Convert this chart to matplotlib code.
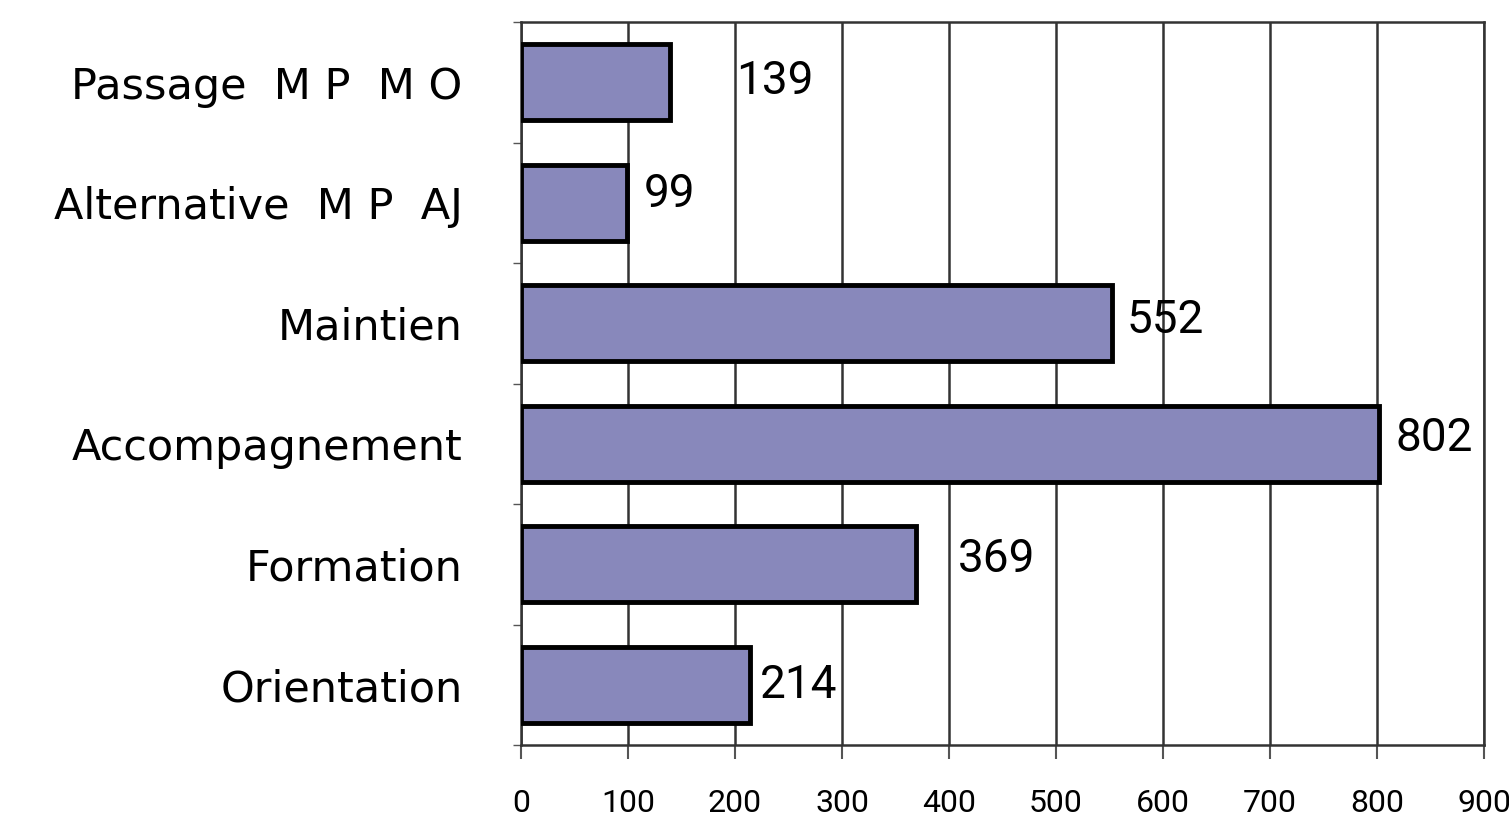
import matplotlib
matplotlib.use("Agg")
import matplotlib.pyplot as plt
import numpy as np

# catégories (du bas vers le haut)
categories = ['Orientation', 'Formation', 'Accompagnement', 'Maintien',
              'Alternative  M P  AJ', 'Passage  M P  M O']
values = [214, 369, 802, 552, 99, 139]
xticks = [0, 100, 200, 300, 400, 500, 600, 700, 800, 900]

# décalage des étiquettes (points) comme dans l'original
lab_dx = [7, 30, 12, 11, 12, 48]
lab_dy = [0, 4, 4, 2, 6, 1]

NUMFONT = 'Roboto'

fig = plt.figure(figsize=(15.09, 8.31), dpi=100)
ax = fig.add_axes([521 / 1509, 1 - 745 / 831, (1484 - 521) / 1509, (745 - 22) / 831])

y = np.arange(len(categories))
ax.barh(y, values, height=0.63, color='#8888bb', edgecolor='black', linewidth=3.5, zorder=3)

ax.set_xlim(0, 900)
ax.set_ylim(-0.5, len(categories) - 0.5)
ax.set_xticks(xticks)
ax.set_xticklabels([str(t) for t in xticks], family=NUMFONT, fontsize=23)
ax.set_yticks(np.arange(len(categories) + 1) - 0.5, minor=False)
ax.set_yticklabels([])
ax.set_yticks(y, minor=True)
ax.set_yticklabels(categories, minor=True, family='DejaVu Sans', fontsize=31)
ax.tick_params(axis='y', which='minor', length=0, pad=42)
ax.tick_params(axis='y', which='major', length=6, width=1, color='#555555')
ax.tick_params(axis='x', length=10, width=1.5, pad=22, color='#555555')
ax.grid(axis='x', color='#333333', linewidth=1.8, zorder=0)
for s in ax.spines.values():
    s.set_linewidth(1.8)
    s.set_color('#333333')

for yi, v, dx, dy in zip(y, values, lab_dx, lab_dy):
    ax.annotate(str(v), (v, yi), xytext=(dx, dy), textcoords='offset points',
                ha='left', va='center', family=NUMFONT, fontsize=33)

fig.savefig('out.png', dpi=100)
